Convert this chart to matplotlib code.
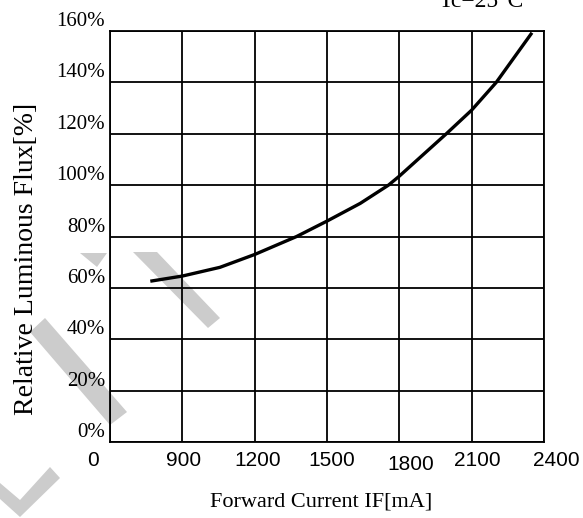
# -*- coding: utf-8 -*-
import matplotlib
matplotlib.use('Agg')
import matplotlib.pyplot as plt
from matplotlib.patches import Polygon
from matplotlib.transforms import ScaledTranslation

# ось X не линейная: каждый столбец сетки - один шаг
current_labels = ['0', '900', '1200', '1500', '1800', '2100', '2400']
flux_ticks = [0, 20, 40, 60, 80, 100, 120, 140, 160]
flux_labels = ['0%', '20%', '40%', '60%', '80%', '100%', '120%', '140%', '160%']

# точки кривой (позиция в шагах сетки, %)
curve_pos = [0.58, 1.0, 1.52, 2.0, 2.58, 3.0, 3.46, 3.85, 4.0, 4.65, 5.0, 5.34, 5.82]
curve_flux = [62.7, 64.6, 68.0, 73.0, 80.0, 86.0, 92.9, 100.0, 103.5, 120.0, 129.2, 140.0, 158.8]

W, H = 583, 518
fig = plt.figure(figsize=(W / 100, H / 100), dpi=100)
fig.patch.set_facecolor('white')


def px(pts):
    return [(x / W, 1 - y / H) for x, y in pts]


# серый водяной знак (декор)
wm = [
    [(133, 252), (157, 252), (220, 318), (208, 328)],
    [(80, 253), (107, 253), (97, 267)],
    [(30, 332), (45, 318), (127, 412), (110, 425)],
    [(0, 483), (20, 500), (50, 467), (60, 478), (20, 517), (0, 499)],
]
for shape in wm:
    fig.add_artist(Polygon(px(shape), closed=True, transform=fig.transFigure,
                           facecolor='#cccccc', edgecolor='none', zorder=-1))

ax = fig.add_axes([110 / W, 1 - 442 / H, 434 / W, 411 / H])
ax.set_facecolor('none')
ax.set_xlim(0, len(current_labels) - 1)
ax.set_ylim(0, 160)

ax.set_xticks(range(len(current_labels)))
ax.set_xticklabels(current_labels, family='Liberation Sans', fontsize=15)
ax.set_yticks(flux_ticks)
ax.set_yticklabels(flux_labels, family='Liberation Serif', fontsize=15, va='bottom')
ax.tick_params(axis='both', length=0)
ax.tick_params(axis='y', pad=3.6)
ax.tick_params(axis='x', pad=6.5)

ax.grid(True, color='black', linewidth=1.3)
for s in ax.spines.values():
    s.set_linewidth(1.3)

ax.plot(curve_pos, curve_flux, color='black', linewidth=2.4, zorder=3)

ax.set_xlabel('Forward Current IF[mA]', family='Liberation Serif', fontsize=16)
ax.xaxis.set_label_coords(0.486, -0.122)
ax.set_ylabel('Relative Luminous Flux[%]', family='Liberation Serif', fontsize=20)
ax.yaxis.set_label_coords(-0.164, 0.445)

fig.text(481 / W, 1 - 7 / H, 'Tc=25°C', ha='center', va='baseline',
         family='Liberation Serif', fontsize=17)

# подписи по X в оригинале смещены относительно линий сетки
label_dx = [-17, 1.5, 3, 5, 11, 6, 12]
label_dy = [0, 0, 0, 0, -4, 0, 0]
for lab, dx, dy in zip(ax.get_xticklabels(), label_dx, label_dy):
    lab.set_transform(lab.get_transform() + ScaledTranslation(dx / 100, dy / 100, fig.dpi_scale_trans))

fig.savefig('out.png', dpi=100)
